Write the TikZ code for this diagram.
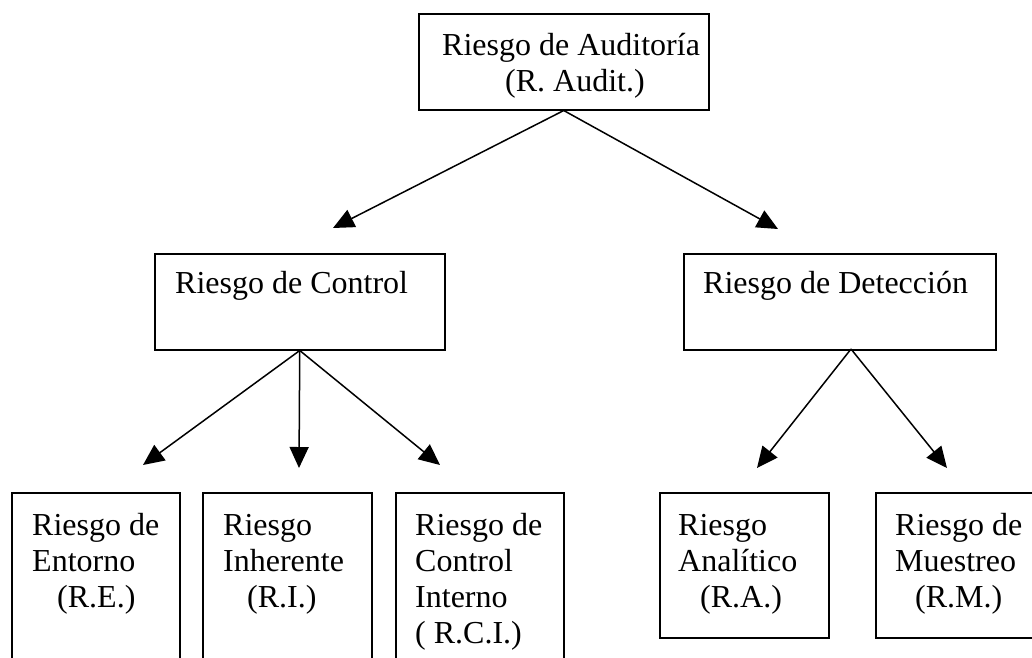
\documentclass[tikz,border=0pt]{standalone}
\usepackage{fontspec}
\setmainfont{Liberation Serif}
\usetikzlibrary{arrows.meta,positioning}
\tikzstyle{caja} = [rectangle, draw=black, line width=1.5pt, anchor=north west, inner sep=0pt]
\tikzstyle{texto} = [anchor=base west, inner sep=0pt, align=left, font=\fontsize{32}{36}\selectfont]
\tikzstyle{arrow} = [line width=1.5pt, -{Triangle[length=21pt,width=19pt]}]

\begin{document}
\begin{tikzpicture}[x=1pt, y=-1pt]
\path[use as bounding box, clip] (0,0) rectangle (1032,657);
% cajas
\node[caja, minimum width=290pt, minimum height=96pt] (aud) at (418,13) {};
\node[caja, minimum width=290pt, minimum height=96pt] (ctrl) at (154,253) {};
\node[caja, minimum width=312pt, minimum height=96pt] (det) at (683,253) {};
\node[caja, minimum width=168pt, minimum height=200pt] (ent) at (11,492) {};
\node[caja, minimum width=169pt, minimum height=200pt] (inh) at (202,492) {};
\node[caja, minimum width=168pt, minimum height=200pt] (rci) at (395,492) {};
\node[caja, minimum width=169pt, minimum height=145pt] (ana) at (659,492) {};
\node[caja, minimum width=190pt, minimum height=145pt] (mue) at (875,492) {};
% textos (base = ultima linea)
\node[texto] (audT) at (442,91) {Riesgo de Auditoría\\\hspace*{63pt}(R. Audit.)};
\node[texto] (ctrlT) at (175,293) {Riesgo de Control};
\node[texto] (detT) at (703,293) {Riesgo de Detección};
\node[texto] (entT) at (32,607) {Riesgo de\\Entorno\\\hspace*{25pt}(R.E.)};
\node[texto] (inhT) at (223,607) {Riesgo\\Inherente\\\hspace*{24pt}(R.I.)};
\node[texto] (rciT) at (415,643) {Riesgo de\\Control\\Interno\\( R.C.I.)};
\node[texto] (anaT) at (678,607) {Riesgo\\Analítico\\\hspace*{22pt}(R.A.)};
\node[texto] (mueT) at (895,607) {Riesgo de\\Muestreo\\\hspace*{20pt}(R.M.)};
% puntas
\coordinate (p1) at (333,228);
\coordinate (p2) at (778,229);
\coordinate (p3) at (143,465);
\coordinate (p4) at (299,468);
\coordinate (p5) at (440,465);
\coordinate (p6) at (757,468);
\coordinate (p7) at (947,468);
\coordinate (detS) at (851,349);
\draw[arrow] (aud.south) -- (p1);
\draw[arrow] (aud.south) -- (p2);
\draw[arrow] (ctrl.south) -- (p3);
\draw[arrow] (ctrl.south) -- (p4);
\draw[arrow] (ctrl.south) -- (p5);
\draw[arrow] (detS) -- (p6);
\draw[arrow] (detS) -- (p7);
\end{tikzpicture}
\end{document}
